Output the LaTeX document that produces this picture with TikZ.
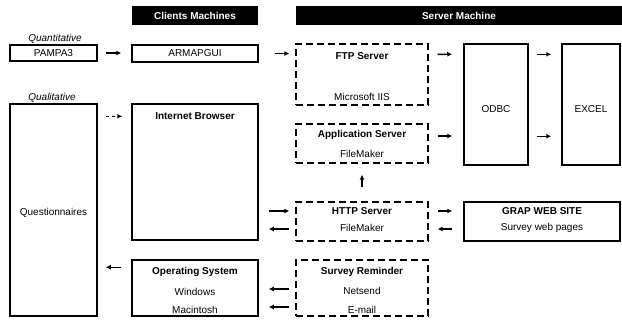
\documentclass[tikz,border=0pt]{standalone}
\usepackage{fontspec}
\setmainfont{Liberation Sans}
\usetikzlibrary{arrows.meta, positioning, calc}

\begin{document}
\begin{tikzpicture}[x=1pt, y=-1pt,
    box/.style={draw, line width=1.5pt, inner sep=0pt},
    dbox/.style={draw, line width=1.3pt, dash pattern=on 7pt off 4pt, inner sep=0pt},
    banner/.style={fill=black, text=white, inner sep=0pt,
      font=\fontsize{10}{12}\selectfont\bfseries},
    txt/.style={inner sep=0pt, font=\fontsize{10}{12}\selectfont},
    ttl/.style={inner sep=0pt, font=\fontsize{10}{12}\selectfont\bfseries},
    cat/.style={inner sep=0pt, font=\fontsize{10}{12}\selectfont\itshape},
    arr/.style={-{Latex[length=5pt,width=5pt]}, line width=1.4pt},
    darr/.style={arr, dash pattern=on 3pt off 3pt}]
  \useasboundingbox (0,0) rectangle (622,322);

  % headers
  \node[banner, minimum width=126pt, minimum height=19pt] (client) at (195,15.5) {Clients Machines};
  \node[banner, minimum width=326pt, minimum height=19pt] (server) at (459,15.5) {Server Machine};

  % client side
  \node[cat] (quanti) at (55,39) {Quantitative};
  \node[box, minimum width=87pt, minimum height=16pt] (pampa) at (53.5,53) {};
  \node[txt] at (pampa.center) {PAMPA3};
  \node[cat] (quali) at (52,98) {Qualitative};
  \node[box, minimum width=87pt, minimum height=212pt] (quest) at (53.5,210) {};
  \node[txt] at ($(quest.north)+(0,110)$) {Questionnaires};
  \node[box, minimum width=126pt, minimum height=17pt] (armap) at (195,53.5) {};
  \node[txt] at (armap.center) {ARMAPGUI};
  \node[box, minimum width=126pt, minimum height=136pt] (browser) at (195,172) {};
  \node[ttl] at ($(browser.north)+(0,13)$) {Internet Browser};
  \node[box, minimum width=126pt, minimum height=56pt] (os) at (195,288) {};
  \node[ttl] at ($(os.north)+(0,13)$) {Operating System};
  \node[txt] at ($(os.north)+(0,33)$) {Windows};
  \node[txt] at ($(os.north)+(0,51)$) {Macintosh};

  % server side
  \node[dbox, minimum width=132pt, minimum height=61pt] (ftp) at (362,74.5) {};
  \node[ttl] at ($(ftp.north)+(0,13)$) {FTP Server};
  \node[txt] at ($(ftp.north)+(0,54)$) {Microsoft IIS};
  \node[dbox, minimum width=132pt, minimum height=39pt] (app) at (362,143.5) {};
  \node[ttl] at ($(app.north)+(0,12)$) {Application Server};
  \node[txt] at ($(app.north)+(0,31)$) {FileMaker};
  \node[dbox, minimum width=132pt, minimum height=39pt] (http) at (362,221.5) {};
  \node[ttl] at ($(http.north)+(0,10)$) {HTTP Server};
  \node[txt] at ($(http.north)+(0,27)$) {FileMaker};
  \node[dbox, minimum width=132pt, minimum height=56pt] (remind) at (362,288) {};
  \node[ttl] at ($(remind.north)+(0,13)$) {Survey Reminder};
  \node[txt] at ($(remind.north)+(0,32)$) {Netsend};
  \node[txt] at ($(remind.north)+(0,51)$) {E-mail};
  \node[box, minimum width=64pt, minimum height=121pt] (odbc) at (496,104.5) {};
  \node[txt] at ($(odbc.north)+(0,66)$) {ODBC};
  \node[box, minimum width=58pt, minimum height=121pt] (excel) at (591,104.5) {};
  \node[txt] at ($(excel.north)+(0,66)$) {EXCEL};
  \node[box, minimum width=156pt, minimum height=39pt] (grap) at (542,221.5) {};
  \node[ttl] at ($(grap.north)+(0,10)$) {GRAP WEB SITE};
  \node[txt] at ($(grap.north)+(0,27)$) {Survey web pages};

  % connectors
  \draw[arr] ($(pampa.east)+(8,0)$) -- ($(armap.west|-pampa.east)+(-10,0)$);
  \draw[arr] ($(armap.east)+(16,0)$) -- ($(ftp.west|-armap.east)+(-6,0)$);
  \draw[darr] ($(quest.east|-browser.north)+(8,13)$) -- ($(browser.north west)+(-9,13)$);
  \draw[arr] ($(ftp.north east)+(9,11)$) -- ($(odbc.north west)+(-11,11)$);
  \draw[arr] ($(odbc.north east)+(8,11)$) -- ($(excel.north west)+(-10,11)$);
  \draw[arr] ($(odbc.north east)+(8,93)$) -- ($(excel.north west)+(-10,93)$);
  \draw[arr] ($(app.east)+(9,-7.5)$) -- ($(odbc.west|-app.east)+(-11,-7.5)$);
  \draw[arr] ($(browser.east|-http.west)+(10,-10.5)$) -- ($(http.west)+(-6,-10.5)$);
  \draw[arr] ($(http.west)+(-6,7.5)$) -- ($(browser.east|-http.west)+(10,7.5)$);
  \draw[arr] ($(http.north)+(0,-14)$) -- ($(app.south)+(0,11)$);
  \draw[arr] ($(http.east)+(9,-10.5)$) -- ($(grap.west)+(-11,-10.5)$);
  \draw[arr] ($(grap.west)+(-11,7.5)$) -- ($(http.east)+(9,7.5)$);
  \draw[arr] ($(os.north west)+(-10,8)$) -- ($(quest.east|-os.north)+(8,8)$);
  \draw[arr] ($(remind.west)+(-6,1)$) -- ($(os.east|-remind.west)+(10,1)$);
  \draw[arr] ($(remind.west)+(-6,19)$) -- ($(os.east|-remind.west)+(10,19)$);
\end{tikzpicture}
\end{document}
